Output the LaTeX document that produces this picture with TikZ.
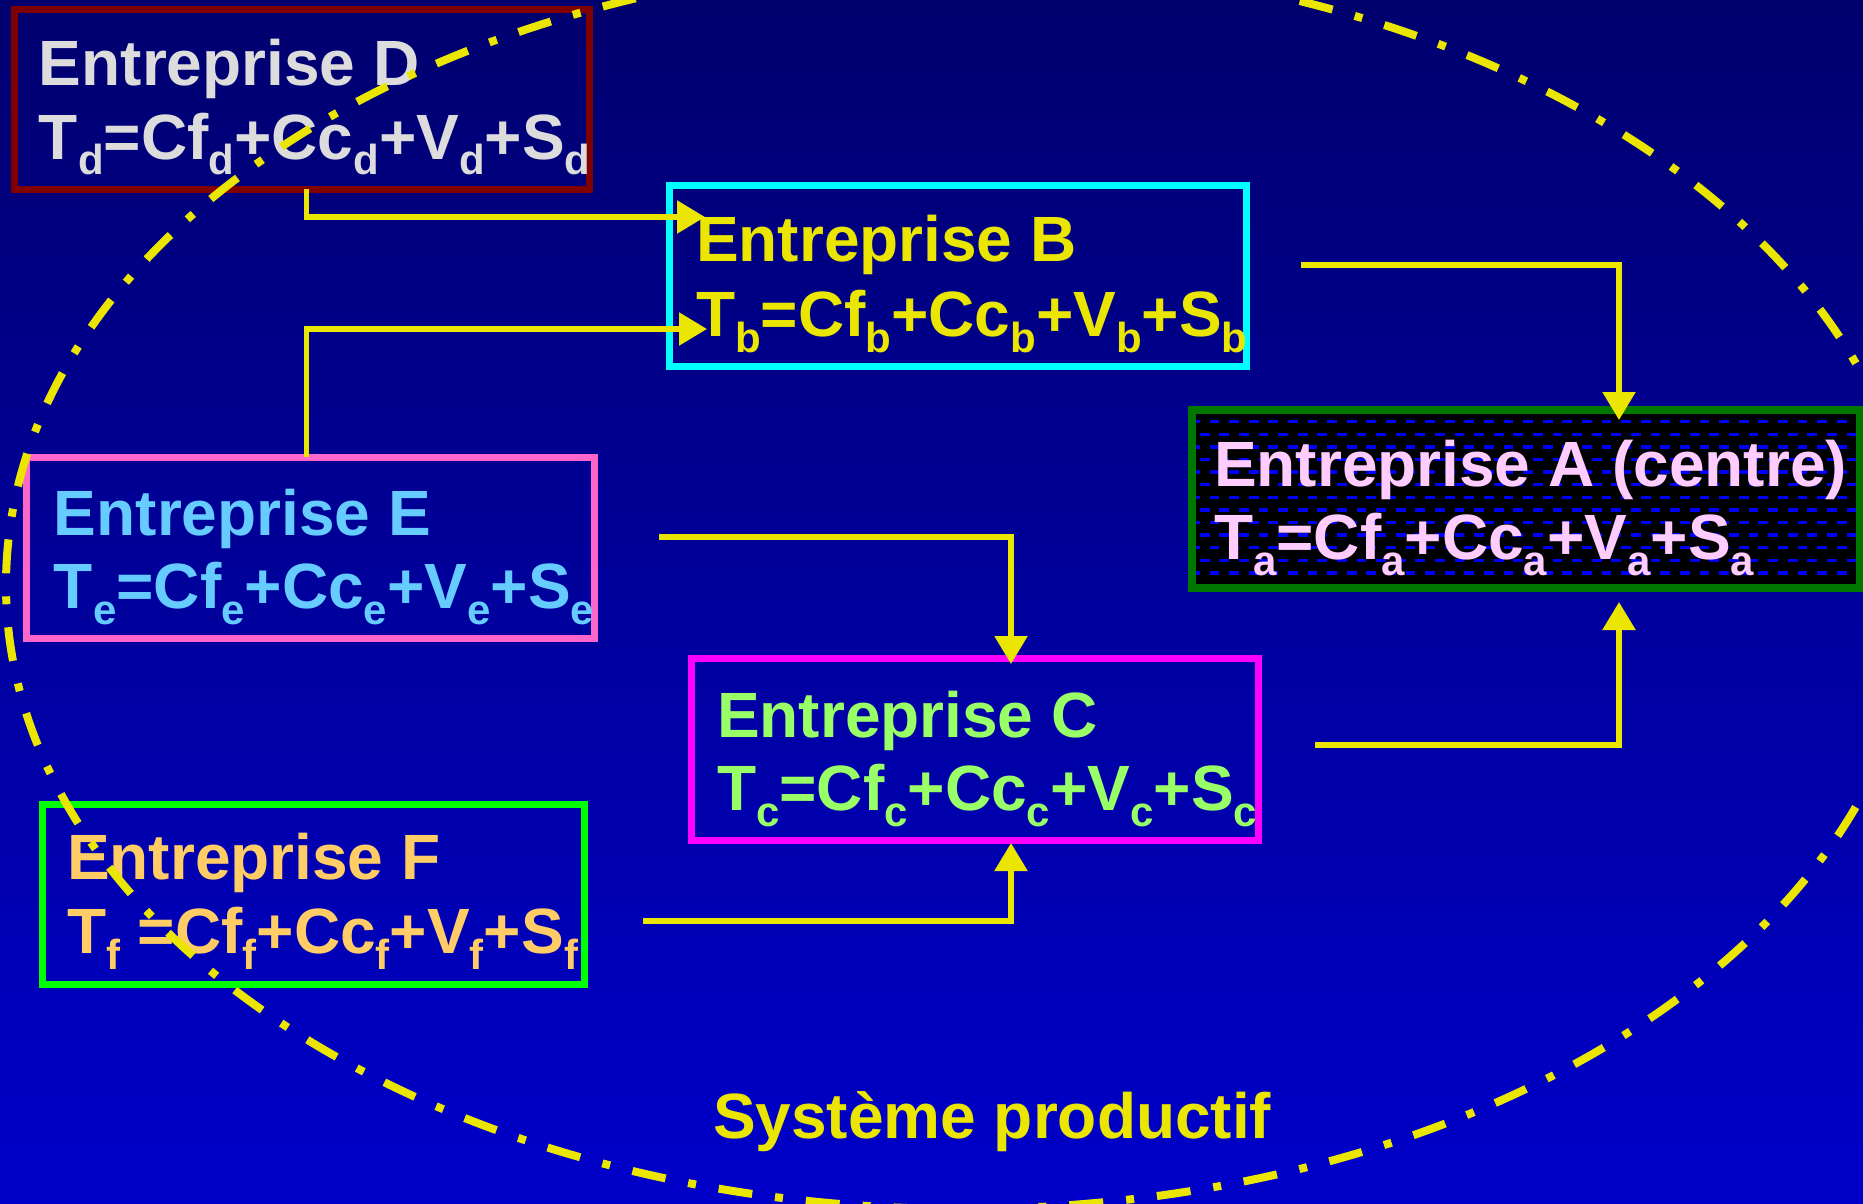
\documentclass[tikz,border=0pt]{standalone}
\usepackage{fontspec}
\setmainfont{Liberation Sans}
\usetikzlibrary{arrows.meta}
\definecolor{ylw}{RGB}{235,230,0}
\definecolor{bgtop}{RGB}{0,0,110}
\definecolor{bgbot}{RGB}{0,0,202}
\definecolor{dred}{RGB}{128,0,0}
\definecolor{cyanb}{RGB}{0,255,255}
\definecolor{pinkb}{RGB}{255,102,204}
\definecolor{magb}{RGB}{255,0,255}
\definecolor{greenb}{RGB}{0,255,0}
\definecolor{agreen}{RGB}{0,120,0}
\definecolor{txD}{RGB}{220,220,220}
\definecolor{txA}{RGB}{255,204,255}
\definecolor{txE}{RGB}{102,204,255}
\definecolor{txC}{RGB}{153,255,102}
\definecolor{txF}{RGB}{255,204,102}
\definecolor{hatchb}{RGB}{0,0,250}
\newcommand\sbx[1]{\raisebox{-8pt}{\fontsize{21}{21}\selectfont #1}}
\begin{document}
\begin{tikzpicture}[x=0.5pt,y=-0.5pt,
  boxst/.style={draw, rectangle, line width=3.5pt, inner sep=0pt, outer sep=0pt},
  txt/.style={anchor=base west, inner sep=0pt, outer sep=0pt, font=\fontsize{32}{38}\selectfont\bfseries},
  conn/.style={draw=ylw, line width=2.8pt, -{Triangle[width=16pt,length=14pt]}},
  ell/.style={draw=ylw, line width=4pt, dash pattern=on 17pt off 11.5pt on 4pt off 11.5pt},
  hatch/.style={draw=hatchb, line width=1.7pt}]
\useasboundingbox (0,0) rectangle (1863,1204);
\shade[top color=bgtop, bottom color=bgbot] (0,0) rectangle (1863,1204);

% Box A (centre) with hatch
\node[boxst, draw=agreen, fill=black, line width=4pt, minimum width=334pt, minimum height=89pt] (A) at (1526,499) {};
\begin{scope}
  \clip (A.south west) rectangle (A.north east);
  \foreach \i in {0,...,12} {
    \pgfmathsetmacro\yy{421.7+\i*12.6}
    \pgfmathsetmacro\phs{mod(\i,2)*4.9}
    \draw[hatch, dash pattern=on 4.9pt off 4.9pt, dash phase=\phs pt] (1190,\yy) -- (1862,\yy);
  }
\end{scope}
\draw[agreen, line width=4pt] (A.south west) rectangle (A.north east);

% Other boxes
\node[boxst, draw=dred, minimum width=287.5pt, minimum height=89.75pt] (D) at (301.5,99.25) {};
\node[boxst, draw=cyanb, minimum width=288.5pt, minimum height=90.5pt] (B) at (957.5,275.5) {};
\node[boxst, draw=pinkb, minimum width=284pt, minimum height=90.5pt] (E) at (310,547.5) {};
\node[boxst, draw=magb, minimum width=283.5pt, minimum height=91pt] (C) at (974.5,749) {};
\node[boxst, draw=greenb, minimum width=271pt, minimum height=90pt] (F) at (313,894) {};

% Texts
\node[txt, text=txD] (D1) at (39,86) {Entreprise D};
\node[txt, text=txD] (D2) at (39,159) {T\sbx{d}=Cf\sbx{d}+Cc\sbx{d}+V\sbx{d}+S\sbx{d}};
\node[txt, text=ylw] (B1) at (696,261) {Entreprise B};
\node[txt, text=ylw] (B2) at (696,336) {T\sbx{b}=Cf\sbx{b}+Cc\sbx{b}+V\sbx{b}+S\sbx{b}};
\node[txt, text=txE] (E1) at (54,535) {Entreprise E};
\node[txt, text=txE] (E2) at (54,608) {T\sbx{e}=Cf\sbx{e}+Cc\sbx{e}+V\sbx{e}+S\sbx{e}};
\node[txt, text=txA] (A1) at (1214,486) {Entreprise A (centre)};
\node[txt, text=txA] (A2) at (1214,559) {T\sbx{a}=Cf\sbx{a}+Cc\sbx{a}+V\sbx{a}+S\sbx{a}};
\node[txt, text=txC] (C1) at (717,737) {Entreprise C};
\node[txt, text=txC] (C2) at (717,810) {T\sbx{c}=Cf\sbx{c}+Cc\sbx{c}+V\sbx{c}+S\sbx{c}};
\node[txt, text=txF] (F1) at (67,879) {Entreprise F};
\node[txt, text=txF] (F2) at (67,953) {T\sbx{f} =Cf\sbx{f}+Cc\sbx{f}+V\sbx{f}+S\sbx{f}};

% Connector coordinates
\coordinate (kx) at (306.5,0);
\coordinate (tB1) at (705,217);
\coordinate (tB2) at (707,329);
\coordinate (sB) at (1301,265);
\coordinate (tA1) at (1619,420);
\coordinate (sE) at (659,537);
\coordinate (tC1) at (1011,664);
\coordinate (sF) at (643,921);
\coordinate (tC2) at (1011,843);
\coordinate (sC) at (1315,745);
\coordinate (tA2) at (1619,602);

\draw[conn] (D.south -| kx) |- (tB1);
\draw[conn] (E.north -| kx) |- (tB2);
\draw[conn] (sB) -| (tA1);
\draw[conn] (sE) -| (tC1);
\draw[conn] (sF) -| (tC2);
\draw[conn] (sC) -| (tA2);

% Ellipse
\draw[ell] (962,585) ellipse [x radius=478pt, y radius=312pt];

\node[txt, text=ylw] (SP) at (713,1138) {Système productif};
\end{tikzpicture}
\end{document}
